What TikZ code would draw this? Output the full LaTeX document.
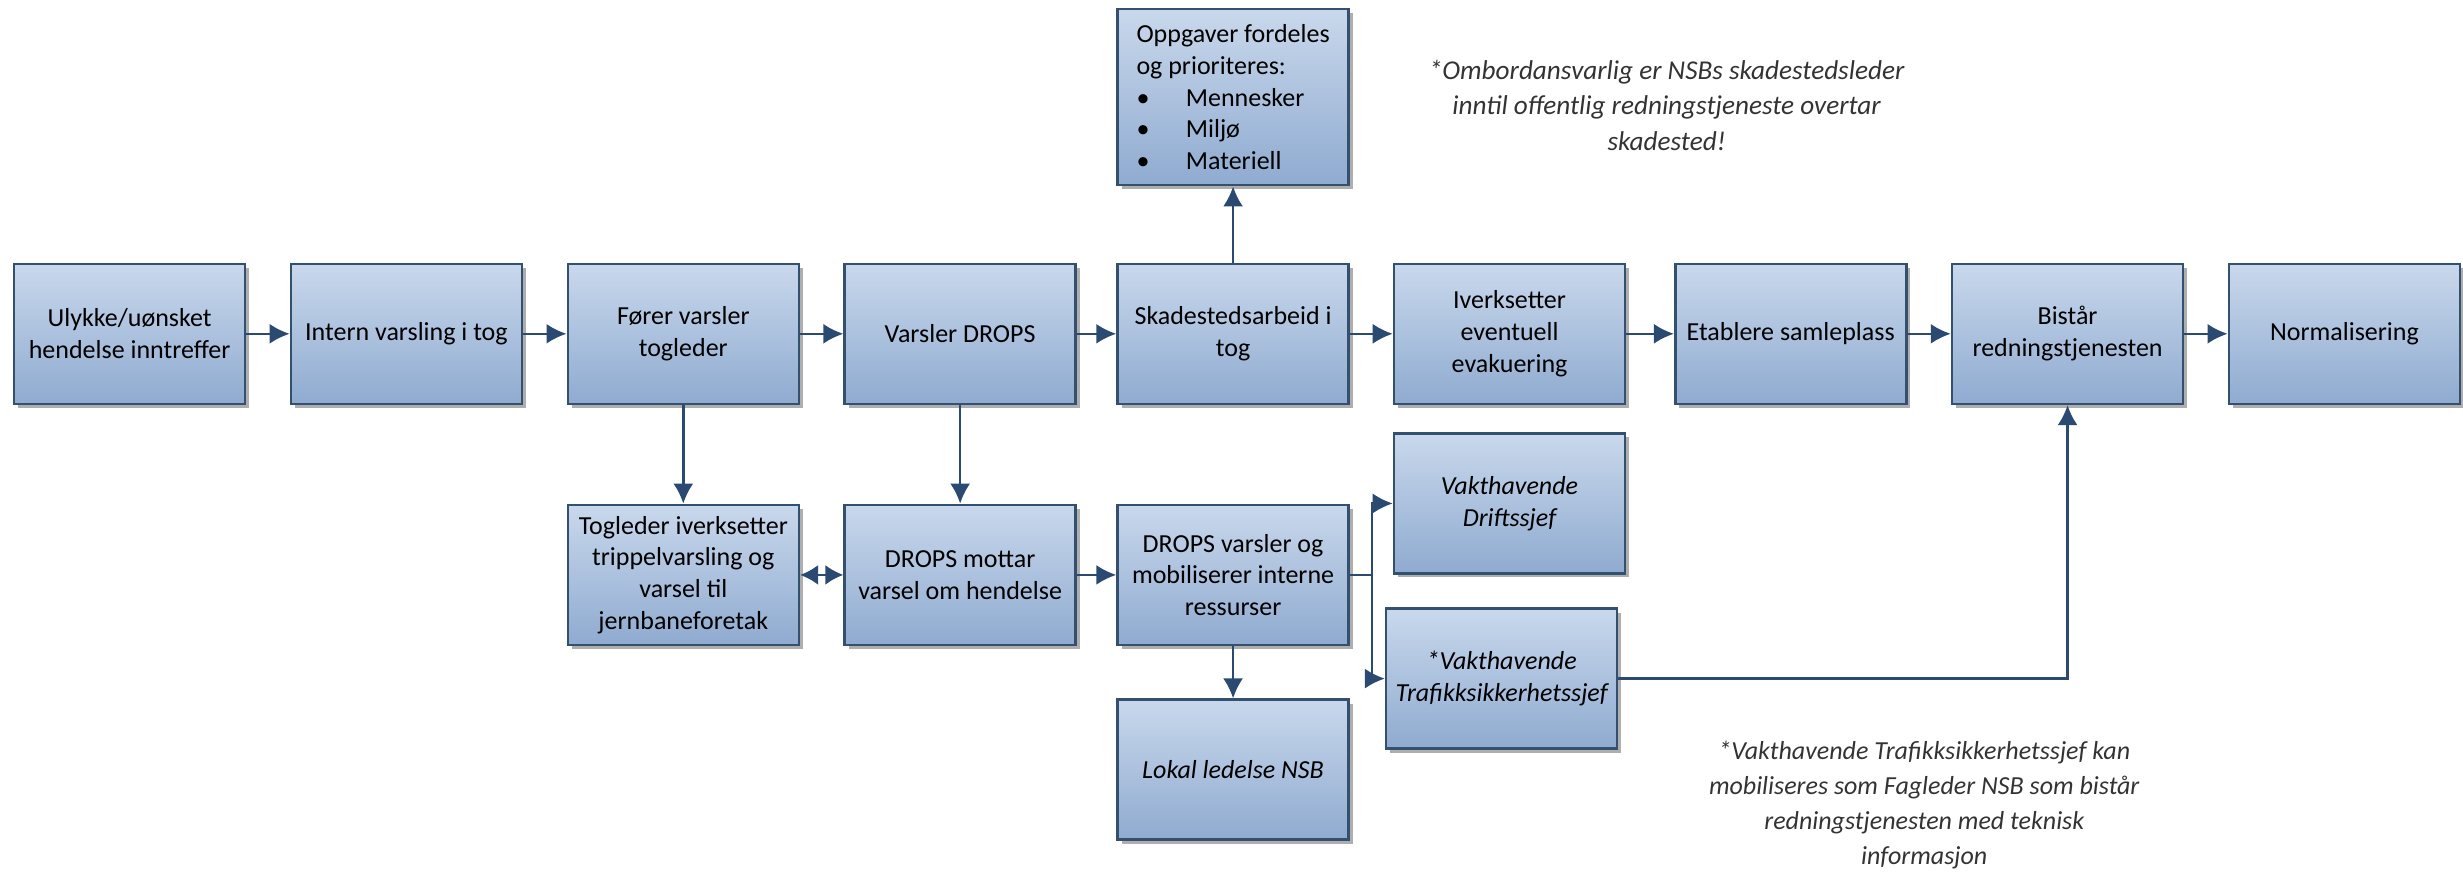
\documentclass[tikz,border=0pt]{standalone}
\usepackage{fontspec}
\setmainfont{Carlito}
\usetikzlibrary{arrows.meta,shadows,calc}
\definecolor{boxtop}{HTML}{C9D8EC}
\definecolor{boxbot}{HTML}{8FABD0}
\definecolor{boxline}{HTML}{34506F}
\definecolor{arrcol}{HTML}{2A4A72}
\definecolor{shadowcol}{HTML}{8C8C8C}
\tikzset{
  box/.style={draw=boxline, line width=1.3pt, top color=boxtop, bottom color=boxbot,
    minimum width=115.5pt, minimum height=70pt, inner sep=1pt, align=center,
    font=\fontsize{13}{15.8}\selectfont,
    drop shadow={shadow xshift=2pt, shadow yshift=-2pt, fill=shadowcol, opacity=0.7}},
  itbox/.style={box, font=\fontsize{13}{15.8}\selectfont\itshape},
  arr/.style={draw=arrcol, line width=1.2pt, -{Latex[length=10pt,width=10pt]}},
  dbl/.style={draw=arrcol, line width=1.2pt, {Latex[length=9pt,width=10pt]}-{Latex[length=9pt,width=10pt]}},
  line/.style={draw=arrcol, line width=1.2pt},
  note/.style={align=center, font=\fontsize{13}{17.6}\selectfont\itshape, text=black!80}
}
\newcommand\bulitem[1]{\makebox[1.9em][l]{•}#1}
\begin{document}
\begin{tikzpicture}[x=0.7854pt, y=-0.7854pt]
\useasboundingbox (0,0) rectangle (1568,558);
% top row
\node[box] (b1) at (82.5,212.5) {Ulykke/uønsket\\hendelse inntreffer};
\node[box] (b2) at (258.75,212.5) {Intern varsling i tog};
\node[box] (b3) at (435,212.5) {Fører varsler\\togleder};
\node[box] (b4) at (611.25,212.5) {Varsler DROPS};
\node[box] (b5) at (785,212.5) {Skadestedsarbeid i\\tog};
\node[box] (b6) at (961,212.5) {Iverksetter\\eventuell\\evakuering};
\node[box] (b7) at (1140,212.5) {Etablere samleplass};
\node[box] (b8) at (1316.25,212.5) {Bistår\\redningstjenesten};
\node[box] (b9) at (1492.5,212.5) {Normalisering};
% task box
\node[box, minimum height=88pt, align=left, anchor=north] (opp) at (785,5)
  {Oppgaver fordeles\\og prioriteres:\\\bulitem{Mennesker}\\\bulitem{Miljø}\\\bulitem{Materiell}};
% second row
\node[box] (tl) at (435,366) {Togleder iverksetter\\trippelvarsling og\\varsel til\\jernbaneforetak};
\node[box] (dm) at (611.25,366) {DROPS mottar\\varsel om hendelse};
\node[box] (dv) at (785,366) {DROPS varsler og\\mobiliserer interne\\ressurser};
\node[itbox] (vd) at (961,320.5) {Vakthavende\\Driftssjef};
\node[itbox] (vt) at (956,432) {*Vakthavende\\Trafikksikkerhetssjef};
\node[itbox] (ll) at (785,490) {Lokal ledelse NSB};
% notes
\node[note, font=\fontsize{13.6}{17.7}\selectfont\itshape] (n1) at (1061,67) {*Ombordansvarlig er NSBs skadestedsleder\\inntil offentlig redningstjeneste overtar\\skadested!};
\node[note, anchor=north] (n2) at (1225,467) {*Vakthavende Trafikksikkerhetssjef kan\\mobiliseres som Fagleder NSB som bistår\\redningstjenesten med teknisk\\informasjon};
% connectors top row
\draw[arr] (b1) -- (b2);
\draw[arr] (b2) -- (b3);
\draw[arr] (b3) -- (b4);
\draw[arr] (b4) -- (b5);
\draw[arr] (b5) -- (b6);
\draw[arr] (b6) -- (b7);
\draw[arr] (b7) -- (b8);
\draw[arr] (b8) -- (b9);
\draw[arr] (b5) -- (opp);
% vertical
\draw[arr] (b3) -- (tl);
\draw[arr] (b4) -- (dm);
\draw[dbl] (tl) -- (dm);
\draw[arr] (dm) -- (dv);
\draw[arr] (dv) -- (ll);
\coordinate (split) at ($(dv.east)+(14,0)$);
\draw[line] (dv.east) -- (split);
\draw[arr] (split) |- (vd.west);
\draw[arr] (split) |- (vt.west);
\draw[arr] (vt.east) -| (b8.south);
\end{tikzpicture}
\end{document}
